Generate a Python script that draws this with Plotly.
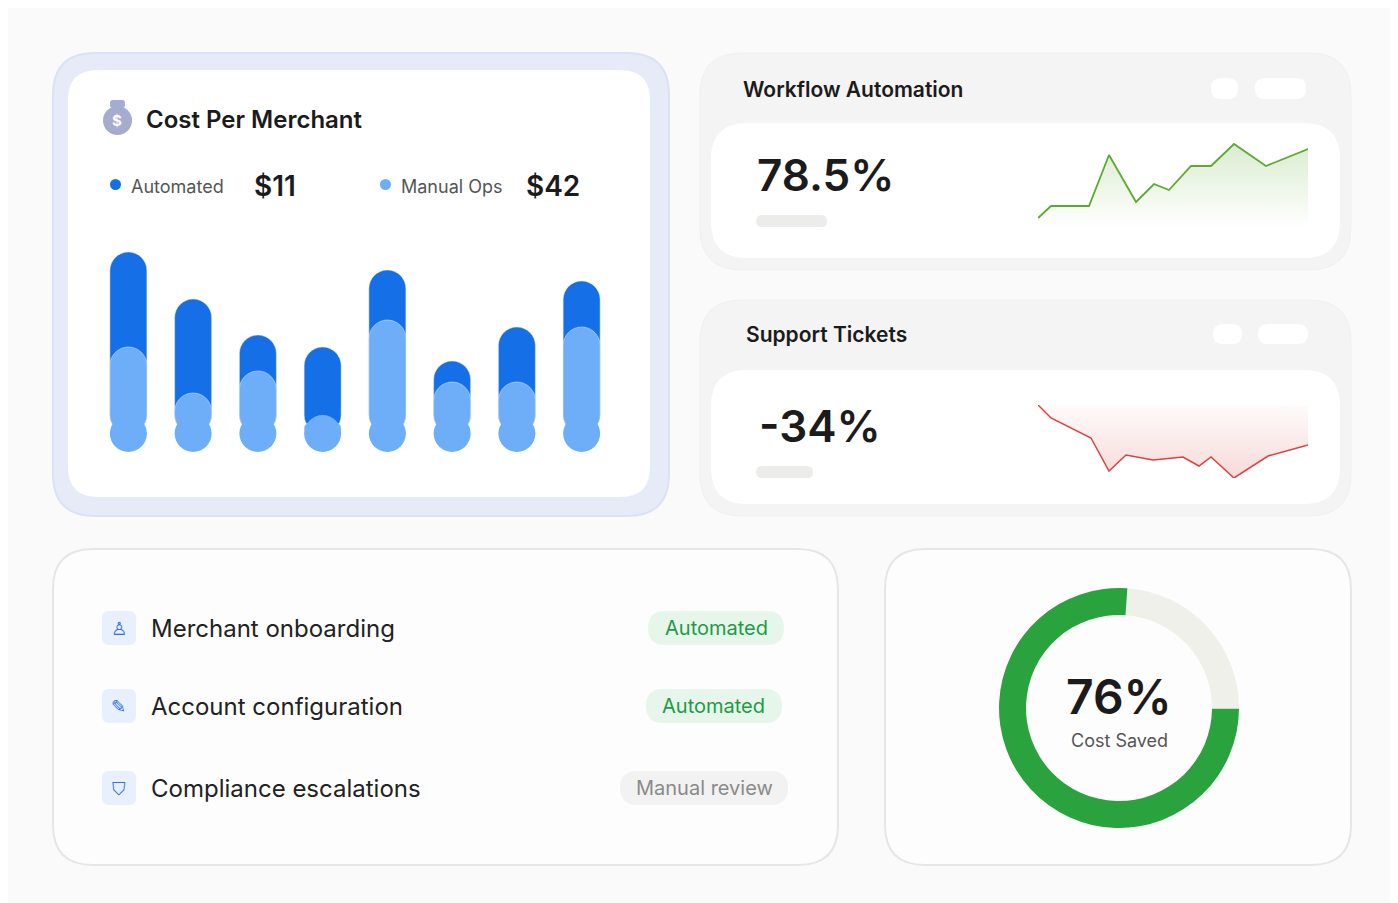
import plotly.graph_objects as go

W, H = 1398, 903
FONT = "Inter"

# cost per merchant bars (heights in px-like units)
bar_idx = list(range(8))
automated_tops = [200, 153, 117, 105, 182, 91, 125, 171]
manual_tops = [105, 59, 81, 29, 132, 70, 70, 125]

# sparklines
wf_x = [0, 13, 51, 71, 98, 116, 131, 153, 173, 196, 228, 270]
wf_y = [10, 22, 22, 73, 26, 44, 38, 62, 62, 84, 62, 79]
st_x = [0, 13, 53, 71, 88, 115, 145, 161, 173, 196, 230, 270]
st_y = [73, 60, 40, 7, 23, 18, 21, 12, 21, 0, 22, 33]

# donut
saved_labels = ["Remaining", "Cost Saved"]
saved_vals = [24, 76]

rows = ["Merchant onboarding", "Account configuration", "Compliance escalations"]
row_status = ["Automated", "Automated", "Manual review"]


def px_x(x):
    return x / W


def px_y(y):
    return 1 - y / H


def rrect(x0, y0, x1, y1, r, fill, line=None, lw=1):
    p = (f"M {px_x(x0 + r)} {px_y(y0)} L {px_x(x1 - r)} {px_y(y0)} "
         f"Q {px_x(x1)} {px_y(y0)} {px_x(x1)} {px_y(y0 + r)} "
         f"L {px_x(x1)} {px_y(y1 - r)} Q {px_x(x1)} {px_y(y1)} {px_x(x1 - r)} {px_y(y1)} "
         f"L {px_x(x0 + r)} {px_y(y1)} Q {px_x(x0)} {px_y(y1)} {px_x(x0)} {px_y(y1 - r)} "
         f"L {px_x(x0)} {px_y(y0 + r)} Q {px_x(x0)} {px_y(y0)} {px_x(x0 + r)} {px_y(y0)} Z")
    return dict(type="path", path=p, xref="paper", yref="paper", fillcolor=fill,
                line=dict(color=line or fill, width=lw if line else 0), layer="below")


def txt(x, y, s, size, color="#1b1b1b", weight=400, anchor="left", family=FONT):
    return dict(x=px_x(x), y=px_y(y), xref="paper", yref="paper", text=s, showarrow=False,
                xanchor=anchor, yanchor="middle",
                font=dict(size=size, color=color, family=family, weight=weight))


fig = go.Figure()

# bars: pills = rounded-top bar + circle at the bottom
R = 18.5
bw = 37 / 64.75
fig.add_trace(go.Bar(x=bar_idx, y=[v - R for v in automated_tops], base=R, width=bw,
                     marker=dict(color="#1570e8", cornerradius="50%"),
                     xaxis="x", yaxis="y", hoverinfo="skip"))
fig.add_trace(go.Bar(x=bar_idx, y=[v - R for v in manual_tops], base=R, width=bw,
                     marker=dict(color="#6eaef8", cornerradius="50%"),
                     xaxis="x", yaxis="y", hoverinfo="skip"))
fig.add_trace(go.Scatter(x=bar_idx, y=[R] * 8, mode="markers",
                         marker=dict(size=37, color="#6eaef8", line=dict(width=0)),
                         xaxis="x", yaxis="y", hoverinfo="skip"))
fig.update_layout(barmode="overlay")

# workflow sparkline
fig.add_trace(go.Scatter(x=wf_x, y=wf_y, mode="lines", line=dict(color="#5aab2e", width=1.8),
                         fill="tozeroy",
                         fillgradient=dict(type="vertical",
                                           colorscale=[[0, "rgba(90,171,46,0)"], [1, "rgba(90,171,46,0.22)"]]),
                         xaxis="x2", yaxis="y2", hoverinfo="skip"))
# support tickets sparkline: fill from line up to top
fig.add_trace(go.Scatter(x=st_x, y=[73] * len(st_x), mode="lines", line=dict(width=0),
                         xaxis="x3", yaxis="y3", hoverinfo="skip"))
fig.add_trace(go.Scatter(x=st_x, y=st_y, mode="lines", line=dict(color="#d8433f", width=1.5),
                         fill="tonexty",
                         fillgradient=dict(type="vertical",
                                           colorscale=[[0, "rgba(216,67,63,0.2)"], [1, "rgba(216,67,63,0.02)"]]),
                         xaxis="x3", yaxis="y3", hoverinfo="skip"))

fig.add_trace(go.Pie(labels=saved_labels, values=saved_vals, hole=0.775, sort=False,
                     direction="clockwise", rotation=4,
                     marker=dict(colors=["#f0f0eb", "#2aa33e"], line=dict(width=0)),
                     textinfo="none", hoverinfo="skip",
                     domain=dict(x=[px_x(991), px_x(1231)], y=[px_y(820), px_y(580)])))

ax = dict(visible=False, fixedrange=True)
fig.update_layout(
    width=W, height=H, margin=dict(l=0, r=0, t=0, b=0),
    paper_bgcolor="#fafafa", plot_bgcolor="rgba(0,0,0,0)", showlegend=False,
    xaxis=dict(ax, domain=[px_x(88), px_x(606)], range=[-0.5, 7.5]),
    yaxis=dict(ax, domain=[px_y(444), px_y(234)], range=[0, 210]),
    xaxis2=dict(ax, domain=[px_x(1030), px_x(1300)], range=[0, 270]),
    yaxis2=dict(ax, domain=[px_y(220), px_y(126)], range=[0, 94]),
    xaxis3=dict(ax, domain=[px_x(1030), px_x(1300)], range=[0, 270]),
    yaxis3=dict(ax, domain=[px_y(470), px_y(397)], range=[0, 73]),
)

shapes = [
    rrect(45, 45, 661, 508, 42, "#e6ebf7", "#dbe2f3", 2),
    rrect(60, 62, 642, 489, 30, "#ffffff"),
    rrect(692, 45, 1343, 262, 42, "#f4f4f4", "#f0f0f0"),
    rrect(703, 115, 1332, 250, 36, "#ffffff"),
    rrect(1203, 70, 1230, 91, 10, "#ffffff"),
    rrect(1247, 70, 1298, 91, 10, "#ffffff"),
    rrect(748, 207, 819, 219, 6, "#ececea"),
    rrect(692, 292, 1343, 508, 42, "#f4f4f4", "#f0f0f0"),
    rrect(703, 362, 1332, 496, 36, "#ffffff"),
    rrect(1205, 316, 1234, 336, 10, "#ffffff"),
    rrect(1250, 316, 1300, 336, 10, "#ffffff"),
    rrect(748, 458, 805, 470, 6, "#ececea"),
    rrect(45, 541, 830, 857, 40, "#fdfdfd", "#e6e6e6", 2),
    rrect(877, 541, 1343, 857, 40, "#fdfdfd", "#e6e6e6", 2),
    # legend dots
    dict(type="circle", xref="paper", yref="paper", x0=px_x(102), x1=px_x(113), y0=px_y(182), y1=px_y(171),
         fillcolor="#1570e8", line=dict(width=0)),
    dict(type="circle", xref="paper", yref="paper", x0=px_x(372), x1=px_x(383), y0=px_y(182), y1=px_y(171),
         fillcolor="#6eaef8", line=dict(width=0)),
    # money bag icon
    dict(type="circle", xref="paper", yref="paper", x0=px_x(95), x1=px_x(124), y0=px_y(127), y1=px_y(98),
         fillcolor="#a4acd0", line=dict(width=0)),
    rrect(102, 92, 117, 100, 3, "#a4acd0"),
]
shapes[-1]["layer"] = "above"

annotations = [
    txt(109, 113, "$", 15, "#ffffff", 700, "center"),
    txt(136, 111, "Cost Per Merchant", 24, "#1b1b1b", 600),
    txt(121, 178, "Automated", 18, "#555555"),
    txt(244, 178, "$11", 28, "#1b1b1b", 600),
    txt(391, 178, "Manual Ops", 18, "#555555"),
    txt(516, 178, "$42", 28, "#1b1b1b", 600),
    txt(733, 81, "Workflow Automation", 21, "#1b1b1b", 600),
    txt(747, 167, "78.5%", 44, "#1b1b1b", 600),
    txt(736, 326, "Support Tickets", 21, "#1b1b1b", 600),
    txt(749, 418, "-34%", 44, "#1b1b1b", 600),
    txt(1111, 688, "76%", 48, "#1b1b1b", 600, "center"),
    txt(1111, 732, "Cost Saved", 18, "#555555", 400, "center"),
]

row_y = [620, 698, 780]
icons = ["♙", "✎", "⛉"]
badge_x = [(640, 776), (638, 774), (612, 780)]
for name, status, y, ic, (bx0, bx1) in zip(rows, row_status, row_y, icons, badge_x):
    shapes.append(rrect(94, y - 17, 128, y + 17, 7, "#e8f0fd"))
    annotations.append(txt(111, y, ic, 18, "#2f6fe0", 400, "center", "DejaVu Sans"))
    annotations.append(txt(141, y, name, 24, "#222222"))
    auto = status == "Automated"
    shapes.append(rrect(bx0, y - 17, bx1, y + 17, 17, "#e7f6ea" if auto else "#f2f2f2"))
    annotations.append(txt((bx0 + bx1) / 2, y, status, 20, "#1f9a48" if auto else "#8a8a8a", 400, "center"))

fig.update_layout(shapes=shapes, annotations=annotations)
fig.write_html("out.html")
